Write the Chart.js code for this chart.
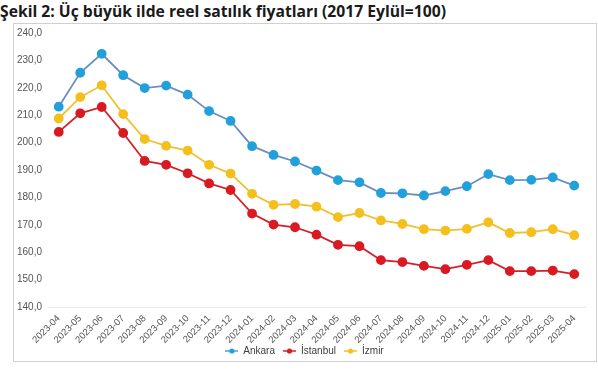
<!DOCTYPE html>
<html>
<head>
<meta charset="utf-8">
<script src="https://cdn.jsdelivr.net/npm/chart.js@4"></script>
<style>
  body { margin: 0; background: #fff; width: 598px; height: 371px; position: relative; overflow: hidden; }
  .title { position: absolute; left: 0; top: 0px; font-family: "Open Sans", sans-serif; font-weight: bold; font-size: 15.7px; color: #1a1a1a; white-space: nowrap; }
  .box { position: absolute; left: 13px; top: 23px; width: 582px; height: 337px; border: 1px solid #d0d0d0; }
  canvas { position: absolute; left: 0; top: 0; }
</style>
</head>
<body>
<div class="title">Şekil 2: Üç büyük ilde reel satılık fiyatları (2017 Eylül=100)</div>
<div class="box"></div>
<canvas id="priceChart" width="598" height="371"></canvas>
<script>
// months on the x axis
const months = ["2023-04","2023-05","2023-06","2023-07","2023-08","2023-09","2023-10","2023-11","2023-12",
  "2024-01","2024-02","2024-03","2024-04","2024-05","2024-06","2024-07","2024-08","2024-09","2024-10",
  "2024-11","2024-12","2025-01","2025-02","2025-03","2025-04"];

// real sale price index per city (2017 Sep = 100)
const ankara = [213.1,225.5,232.4,224.6,219.9,220.8,217.5,211.5,207.9,198.7,195.5,193.1,189.8,186.3,185.5,
  181.6,181.5,180.7,182.3,184.1,188.5,186.3,186.4,187.3,184.3];
const istanbul = [203.9,210.7,213.0,203.5,193.3,191.9,188.8,185.1,182.7,174.1,170.1,169.1,166.4,162.7,162.2,
  157.1,156.4,155.0,153.8,155.4,157.1,153.1,153.1,153.3,152.0];
const izmir = [208.8,216.6,220.9,210.4,201.3,198.8,197.1,191.9,188.7,181.3,177.3,177.6,176.6,172.8,174.3,
  171.6,170.3,168.4,167.9,168.5,170.9,167.0,167.3,168.4,166.2];

// y axis
const yMin = 140, yMax = 240, yStep = 10;

// legend marker: short line with a dot
function marker(lineColor, dotColor){
  const c = document.createElement('canvas');
  c.width = 13; c.height = 8;
  const g = c.getContext('2d');
  g.strokeStyle = lineColor; g.lineWidth = 1.5;
  g.beginPath(); g.moveTo(0, 4); g.lineTo(13, 4); g.stroke();
  g.fillStyle = dotColor;
  g.beginPath(); g.arc(6.5, 4, 2.6, 0, Math.PI * 2); g.fill();
  return c;
}

function series(label, values, lineColor, dotColor){
  return {
    label: label,
    data: values,
    borderColor: lineColor,
    backgroundColor: dotColor,
    pointBackgroundColor: dotColor,
    pointBorderColor: dotColor,
    pointRadius: 4,
    borderWidth: 1.8,
    tension: 0,
    fill: false,
    pointStyle: 'circle'
  };
}

// nudge legend to the right so it sits centred like the original
const legendShift = {
  id: 'legendShift',
  afterLayout(chart){ chart.legend.left += 24; }
};

const ctx = document.getElementById('priceChart').getContext('2d');
const sets = [
  series('Ankara', ankara, '#6b8fc2', '#22a0dc'),
  series('İstanbul', istanbul, '#d42027', '#d91a22'),
  series('İzmir', izmir, '#f0c030', '#f5bf1c')
];
const markers = [marker('#4aa3d8', '#22a0dc'), marker('#d42027', '#d91a22'), marker('#f0c030', '#f5bf1c')];

new Chart(ctx, {
  type: 'line',
  data: { labels: months, datasets: sets },
  plugins: [legendShift],
  options: {
    responsive: false,
    animation: false,
    layout: { padding: { left: 0, right: 13, top: 33, bottom: 5 } },
    plugins: {
      tooltip: { enabled: false },
      legend: {
        position: 'bottom',
        labels: {
          usePointStyle: true,
          pointStyleWidth: 13,
          boxHeight: 8,
          padding: 8,
          color: '#404040',
          font: { family: 'Liberation Sans', size: 10 },
          generateLabels: function(chart){
            return chart.data.datasets.map((d, i) => ({
              text: d.label,
              pointStyle: markers[i],
              fillStyle: d.backgroundColor,
              strokeStyle: d.borderColor,
              lineWidth: 0,
              fontColor: '#404040',
              hidden: false,
              datasetIndex: i
            }));
          }
        }
      }
    },
    scales: {
      x: {
        offset: true,
        grid: { display: false, drawTicks: false },
        border: { display: true, color: '#e8e8e8' },
        ticks: {
          minRotation: 45, maxRotation: 45, autoSkip: false,
          color: '#555555', padding: 6,
          font: { family: 'Liberation Sans', size: 9.5 }
        },
        afterFit: s => {
          s.height = 31;
          s._computeLabelArea = () => undefined; // month labels may run past the short axis box
        }
      },
      y: {
        min: yMin, max: yMax,
        grid: { display: false, drawTicks: false },
        border: { display: false },
        ticks: {
          stepSize: yStep,
          color: '#555555', padding: 6,
          font: { family: 'Liberation Sans', size: 10 },
          callback: v => v.toFixed(1).replace('.', ',')
        },
        afterFit: s => { s.width = 48; }
      }
    }
  }
});
</script>
</body>
</html>
